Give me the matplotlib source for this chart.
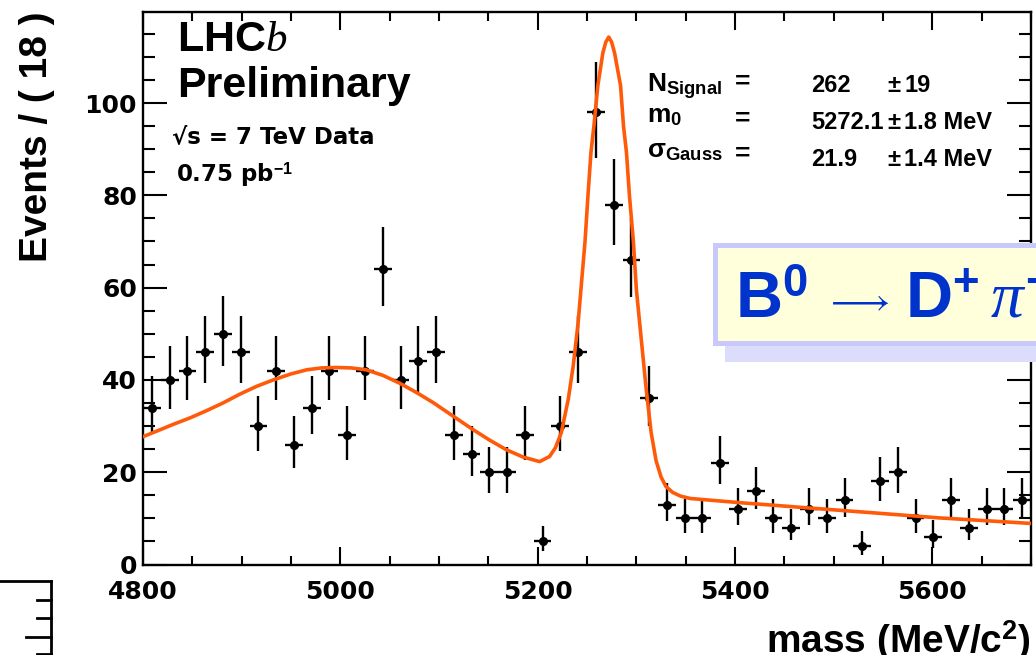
import matplotlib
matplotlib.use("Agg")
import matplotlib.pyplot as plt
import numpy as np
from matplotlib.patches import Rectangle
from matplotlib.lines import Line2D
from matplotlib.ticker import MultipleLocator

plt.rcParams['mathtext.fontset'] = 'custom'
plt.rcParams['mathtext.rm'] = 'Liberation Sans:bold'
plt.rcParams['mathtext.bf'] = 'Liberation Sans:bold'
plt.rcParams['mathtext.it'] = 'Liberation Serif:italic'
plt.rcParams['mathtext.fallback'] = 'stixsans'

# ---------------- data ----------------
bin_width = 18
bin_centers = [4809, 4827, 4845, 4863, 4881, 4899, 4917, 4935, 4953, 4971,
               4989, 5007, 5025, 5043, 5061, 5079, 5097, 5115, 5133, 5151,
               5169, 5187, 5205, 5223, 5241, 5259, 5277, 5295, 5313, 5331,
               5349, 5367, 5385, 5403, 5421, 5439, 5457, 5475, 5493, 5511,
               5529, 5547, 5565, 5583, 5601, 5619, 5637, 5655, 5673, 5691]
counts = [34, 40, 42, 46, 50, 46, 30, 42, 26, 34,
          42, 28, 42, 64, 40, 44, 46, 28, 24, 20,
          20, 28, 5, 30, 46, 98, 78, 66, 36, 13,
          10, 10, 22, 12, 16, 10, 8, 12, 10, 14,
          4, 18, 20, 10, 6, 14, 8, 12, 12, 14]

fit_mass = [4800, 4815, 4831, 4848, 4864, 4881, 4898, 4915, 4932, 4950,
            4966, 4981, 4996, 5011, 5026, 5043, 5060, 5077, 5094, 5114,
            5134, 5151, 5168, 5185, 5202, 5212, 5218, 5224, 5231, 5236,
            5241, 5245, 5248, 5251, 5254, 5257, 5261, 5266, 5269, 5272,
            5275, 5278, 5284, 5287, 5290, 5293, 5297, 5300, 5305, 5310,
            5315, 5320, 5325, 5330, 5337, 5345, 5355, 5405, 5472, 5540,
            5607, 5700]
fit_val = [27.7, 29.0, 30.4, 31.8, 33.3, 35.0, 36.9, 38.6, 40.0, 41.3,
           42.2, 42.6, 42.7, 42.6, 42.2, 41.0, 39.3, 37.3, 35.1, 32.2,
           29.3, 27.0, 24.9, 23.3, 22.3, 23.4, 25.3, 28.6, 35.8, 43.0,
           52.4, 62.5, 70.0, 80.0, 89.3, 95.0, 103.8, 110.8, 113.2, 114.3,
           113.2, 110.8, 103.8, 95.0, 89.3, 80.0, 70.0, 59.7, 48.8, 38.0,
           28.6, 22.5, 19.0, 16.9, 15.6, 14.8, 14.3, 13.4, 12.3, 11.2,
           10.1, 8.9]

x_ticks = [4800, 5000, 5200, 5400, 5600]
y_ticks = [0, 20, 40, 60, 80, 100]

param_labels = ['N$_{\\mathrm{Signal}}$', 'm$_{\\mathrm{0}}$', '\u03c3$_{\\mathrm{Gauss}}$']
param_values = ['262', '5272.1', '21.9']
param_errors = ['19', '1.8 MeV', '1.4 MeV']

# Poisson (Gehrels) asymmetric errors from the counts
n = np.array(counts, dtype=float)
err_hi = np.sqrt(n + 0.75) + 1.0
err_lo = n - n * (1 - 1 / (9 * n) - 1 / (3 * np.sqrt(n))) ** 3

# ---------------- figure ----------------
W, H = 1036, 655
fig = plt.figure(figsize=(W / 100, H / 100), dpi=100)

def px(x):
    return x / W

def py(y):
    return 1 - y / H

ax = fig.add_axes([px(143), py(564.5), px(1031) - px(143), py(11.7) - py(564.5)])
ax.set_xlim(4800, 5700)
ax.set_ylim(0, 119.8)

ax.errorbar(bin_centers, counts, yerr=[err_lo, err_hi], xerr=bin_width / 2,
            fmt='o', color='black', ms=5.5, elinewidth=1.7, capsize=0, zorder=2)
ax.plot(fit_mass, fit_val, color='#ff5a0a', lw=2.6, zorder=3,
        solid_joinstyle='round', solid_capstyle='round')

ax.set_xticks(x_ticks)
ax.set_yticks(y_ticks)
ax.xaxis.set_minor_locator(MultipleLocator(50))
ax.yaxis.set_minor_locator(MultipleLocator(5))
ax.tick_params(which='both', direction='in', top=True, right=True, width=1.5)
ax.tick_params(axis='y', which='major', length=17, pad=4.3)
ax.tick_params(axis='y', which='minor', length=8.5)
ax.tick_params(axis='x', which='major', length=13, pad=11.5)
ax.tick_params(axis='x', which='minor', length=6.5)
for lab in ax.get_xticklabels() + ax.get_yticklabels():
    lab.set_fontfamily('DejaVu Sans')
    lab.set_fontweight('bold')
    lab.set_fontsize(18)
for s in ax.spines.values():
    s.set_linewidth(1.7)

# axis titles
fig.text(px(37), py(12), 'Events / ( 18 )', rotation=90, ha='center', va='top',
         fontsize=28, fontfamily='Liberation Sans', fontweight='bold')
fig.text(px(1031), py(653), 'mass (MeV/c$^{\\mathrm{2}}$)', ha='right', va='baseline',
         fontsize=28, fontfamily='Liberation Sans', fontweight='bold')

# LHCb labels
fig.text(px(177), py(51), 'LHC$\\mathit{b}$', fontsize=31, fontfamily='Liberation Sans',
         fontweight='bold', va='baseline')
fig.text(px(177), py(97), 'Preliminary', fontsize=31, fontfamily='Liberation Sans',
         fontweight='bold', va='baseline')
fig.text(px(172), py(143), '\u221as = 7 TeV Data', fontsize=16.5, fontfamily='DejaVu Sans',
         fontweight='bold', va='baseline')
fig.text(px(176), py(182), '0.75 pb$^{\\mathrm{-1}}$', fontsize=16.5, fontfamily='DejaVu Sans',
         fontweight='bold', va='baseline')

# fit parameters
lab_y = [92, 122, 157]
eq_y = [89, 126, 161]
val_y = [92, 129, 166]
for lab, val, err, ly, ey, vy in zip(param_labels, param_values, param_errors, lab_y, eq_y, val_y):
    fig.text(px(647), py(ly), lab, fontsize=19, fontfamily='Liberation Sans',
             fontweight='bold', va='baseline')
    fig.text(px(735), py(ey), '=', fontsize=19, fontfamily='Liberation Sans',
             fontweight='bold', va='baseline')
    fig.text(px(811), py(vy), val, fontsize=17, fontfamily='Liberation Sans',
             fontweight='bold', va='baseline')
    fig.text(px(887), py(vy), '\u00b1', fontsize=17, fontfamily='Liberation Sans',
             fontweight='bold', va='baseline')
    fig.text(px(904), py(vy), err, fontsize=17, fontfamily='Liberation Sans',
             fontweight='bold', va='baseline')

# decay label box with shadow
shadow = Rectangle((px(725), py(362)), px(1100) - px(725), py(342) - py(362),
                   transform=fig.transFigure, facecolor='#dcdcfc', edgecolor='none', zorder=5)
box = Rectangle((px(714.5), py(342.5)), px(1100) - px(714.5), py(245.5) - py(342.5),
                transform=fig.transFigure, facecolor='#ffffdc', edgecolor='#c8c8fa',
                linewidth=3.6, zorder=6)
fig.patches.extend([shadow, box])
blue = dict(fontfamily='Liberation Sans', fontweight='bold', color='#0033cc',
            va='baseline', zorder=7)
fig.text(px(735), py(318), 'B$^{\\mathrm{0}}$', fontsize=47, **blue)
fig.text(px(825), py(311), '$\\longrightarrow$', fontsize=27, **blue)
fig.text(px(905), py(318), 'D$^{\\mathrm{+}}$', fontsize=47, **blue)
fig.text(px(990), py(318), '$\\pi^{\\mathrm{-}}$', fontsize=47, **blue)

# fragment of neighbouring frame in the lower-left corner
frag = [((0, 50.5), (580.5, 580.5)), ((50.5, 50.5), (580.5, 660)),
        ((37, 50.5), (600, 600)), ((37, 50.5), (618, 618)),
        ((26, 50.5), (637, 637)), ((37, 50.5), (654, 654))]
for xs, ys in frag:
    fig.lines.append(Line2D([px(v) for v in xs], [py(v) for v in ys],
                            transform=fig.transFigure, color='black', lw=2.0))

fig.savefig('out.png', dpi=100)
